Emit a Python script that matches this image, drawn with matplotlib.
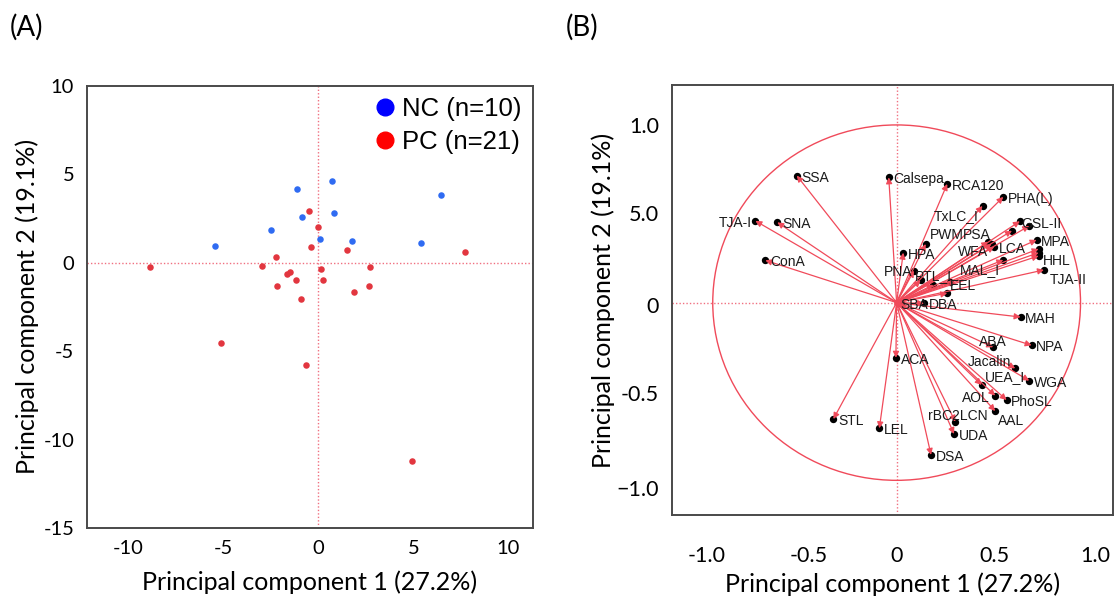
import matplotlib.pyplot as plt
from matplotlib.patches import Circle

# (A) PCA scores
nc_x = [-1.12, 0.70, 6.47, -0.84, 0.81, -2.47, -5.46, 0.07, 1.77, 5.39]
nc_y = [4.17, 4.62, 3.81, 2.59, 2.82, 1.86, 0.93, 1.34, 1.25, 1.12]
pc_x = [-0.49, 0.00, -0.39, 1.49, 7.72, -2.21, -8.84, -2.96, -1.67, -1.47, 0.12,
        2.74, -1.18, 0.26, -2.19, 2.65, 1.86, -0.91, -5.11, -0.67, 4.93]
pc_y = [2.95, 2.01, 0.91, 0.70, 0.59, 0.34, -0.23, -0.19, -0.64, -0.51, -0.36,
        -0.27, -0.98, -0.97, -1.33, -1.31, -1.63, -2.08, -4.56, -5.81, -11.23]

# (B) lectin loadings
lectins = ["SSA", "Calsepa", "RCA120", "PHA(L)", "TxLC_I", "TJA-I", "SNA",
           "GSL-II", "GSL-I_A4", "GSL-I_B4", "PWM", "PSA", "WFA", "LCA", "MPA",
           "ECA", "PHA(E)", "HHL", "HPA", "ConA", "MAL_I", "PNA", "TJA-II",
           "PTL_I", "BPL", "VVA", "EEL", "DBA", "SBA", "MAH", "ABA", "NPA", "ACA",
           "Jacalin", "WGA", "UEA_I", "AOL", "PhoSL", "AAL", "rBC2LCN", "UDA",
           "DSA", "STL", "LEL"]
load_x = [-0.543, -0.043, 0.275, 0.580, 0.467, -0.768, -0.649,
          0.670, 0.721, 0.627, 0.158, 0.498, 0.516, 0.531, 0.761,
          0.772, 0.772, 0.772, 0.036, -0.714, 0.580, 0.094, 0.801,
          0.130, 0.200, 0.290, 0.275, 0.149, 0.025, 0.674, 0.525, 0.734, -0.004,
          0.645, 0.721, 0.462, 0.536, 0.598, 0.536, 0.319, 0.312,
          0.187, -0.344, -0.094]
load_y = [0.715, 0.705, 0.668, 0.595, 0.544, 0.460, 0.452,
          0.458, 0.432, 0.405, 0.330, 0.343, 0.330, 0.315, 0.353,
          0.302, 0.281, 0.263, 0.281, 0.238, 0.240, 0.180, 0.184,
          0.125, 0.100, 0.118, 0.053, -0.004, 0.000, -0.081, -0.251, -0.240, -0.310,
          -0.370, -0.439, -0.463, -0.523, -0.548, -0.610, -0.670, -0.739,
          -0.857, -0.655, -0.707]
hidden = {"GSL-I_A4", "GSL-I_B4", "ECA", "PHA(E)", "BPL", "VVA"}

# label placement tweaks (dx, dy, ha); everything else sits to the right
label_off = {
    "TJA-I": (-0.02, -0.01, "right"), "PNA": (-0.01, -0.005, "right"),
    "TxLC_I": (-0.023, -0.054, "right"), "MAL_I": (-0.018, -0.056, "right"),
    "HHL": (0.025, -0.027, "left"), "TJA-II": (0.032, -0.056, "left"),
    "EEL": (0.015, 0.04, "left"), "PTL_I": (-0.03, 0.025, "left"),
    "PWM": (0.023, 0.05, "left"), "PSA": (0.014, 0.038, "right"),
    "WFA": (-0.018, -0.043, "right"), "GSL-II": (0.01, -0.018, "left"),
    "ABA": (0.0, 0.03, "center"), "Jacalin": (-0.02, 0.038, "right"),
    "UEA_I": (0.018, 0.043, "left"), "AOL": (-0.029, -0.015, "right"),
    "AAL": (0.017, -0.054, "left"), "rBC2LCN": (0.011, 0.032, "center"),
    "SBA": (-0.005, -0.012, "left"),
}

RED = "#f04a5a"
DOT = "#f07080"
FRAME = "#4a4a4a"
tick_font = ["Lato", "DejaVu Sans"]

fig = plt.figure(figsize=(11.14, 6.0), dpi=100)

# ---------------- (A)
axA = fig.add_axes([0.0778, 0.12, 0.4006, 0.737])
axA.axhline(0, color=DOT, lw=1, ls=(0, (1, 1.5)), zorder=1)
axA.axvline(0, color=DOT, lw=1, ls=(0, (1, 1.5)), zorder=1)
axA.scatter(nc_x, nc_y, s=22, color="#2f6bf2", zorder=3, linewidths=0)
axA.scatter(pc_x, pc_y, s=22, color="#e2363f", zorder=3, linewidths=0)
axA.set_xlim(-12.2, 11.3)
axA.set_ylim(-15, 10)
axA.set_xticks([-10, -5, 0, 5, 10])
axA.set_xticklabels(["-10", "-5", "0", "5", "10"])
axA.set_yticks([-15, -10, -5, 0, 5, 10])
axA.set_yticklabels(["-15", "-10", "-5", "0", "5", "10"])
axA.tick_params(length=0, pad=9, labelsize=14.5)
for t in axA.get_xticklabels() + axA.get_yticklabels():
    t.set_family(tick_font)
axA.set_xlabel("Principal component 1 (27.2%)", fontsize=18, family=tick_font, labelpad=9)
axA.set_ylabel("Principal component 2 (19.1%)", fontsize=18, family=tick_font, labelpad=3)
for sp in axA.spines.values():
    sp.set_color(FRAME)
    sp.set_linewidth(1.4)
axA.plot([], [], "o", color="#0000ff", ms=12, label="NC (n=10)")
axA.plot([], [], "o", color="#ff0000", ms=12, label="PC (n=21)")
axA.legend(loc="upper right", frameon=False, handletextpad=0.1, borderpad=0.15,
           labelspacing=0.35, handlelength=1.1, borderaxespad=0.3,
           prop={"family": ["Liberation Sans", "DejaVu Sans"], "size": 18.5})

# ---------------- (B)
axB = fig.add_axes([0.603, 0.1417, 0.396, 0.7167])
axB.axhline(0, color=DOT, lw=1, ls=(0, (1, 1.5)), zorder=1)
axB.axvline(0, color=DOT, lw=1, ls=(0, (1, 1.5)), zorder=1)
axB.add_patch(Circle((0, 0), 1.0, fill=False, color=RED, lw=1, zorder=2))
axB.scatter(load_x, load_y, s=28, color="black", zorder=3, linewidths=0)
for name, x, y in zip(lectins, load_x, load_y):
    axB.annotate("", xy=(x, y), xytext=(0, 0),
                 arrowprops=dict(arrowstyle="-|>", color=RED, lw=0.9,
                                 mutation_scale=9, shrinkA=0, shrinkB=0),
                 zorder=4)
    if name in hidden:
        continue
    dx, dy, ha = label_off.get(name, (0.025, -0.012, "left"))
    axB.text(x + dx, y + dy, name, ha=ha, va="center", fontsize=10,
             family=["Liberation Sans", "DejaVu Sans"], color="#1a1a1a", zorder=5)
axB.set_xlim(-1.223, 1.176)
axB.set_ylim(-1.195, 1.225)
axB.set_xticks([-1.033, -0.48, 0, 0.534, 1.078])
axB.set_xticklabels(["-1.0", "-0.5", "0", "0.5", "1.0"])
axB.set_yticks([-1.045, -0.51, -0.013, 0.503, 1.0])
axB.set_yticklabels(["\u22121.0", "-0.5", "0", "5.0", "1.0"])
axB.tick_params(length=0, pad=9, labelsize=15.5)
axB.tick_params(axis="x", pad=22)
for t in axB.get_xticklabels() + axB.get_yticklabels():
    t.set_family(tick_font)
axB.set_xlabel("Principal component 1 (27.2%)", fontsize=18, family=tick_font, labelpad=5)
axB.set_ylabel("Principal component 2 (19.1%)", fontsize=18, family=tick_font, labelpad=1)
for sp in axB.spines.values():
    sp.set_color(FRAME)
    sp.set_linewidth(1.4)

fig.text(0.009, 0.955, "(A)", fontsize=20, family=tick_font, va="center")
fig.text(0.508, 0.955, "(B)", fontsize=20, family=tick_font, va="center")

fig.savefig("out.png", dpi=100)
